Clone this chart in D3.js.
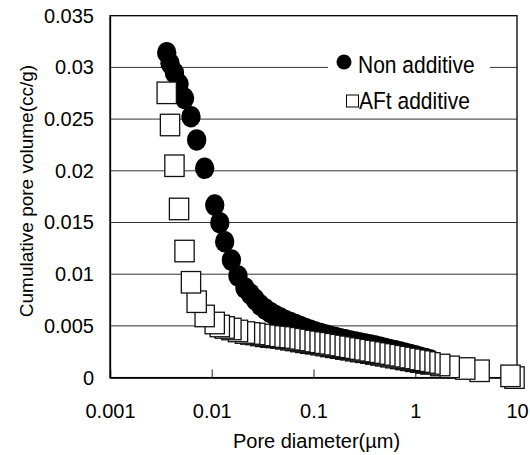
<!DOCTYPE html>
<html>
<head>
<meta charset="utf-8">
<script src="https://cdn.jsdelivr.net/npm/d3@7"></script>
<style>
  body { margin: 0; background: #fff; }
  text { font-family: "Liberation Sans", Arial, sans-serif; fill: #000; }
</style>
</head>
<body>
<div id="chart"></div>
<script>
// pore diameter (um), shared by both series
const diameters = [
  0.00361, 0.00389, 0.0043, 0.00477, 0.0054, 0.00625, 0.00711, 0.00852, 0.0107, 0.012,
  0.0134, 0.0156, 0.0181, 0.0212, 0.0239, 0.0268, 0.03, 0.0336, 0.0376, 0.0421,
  0.0472, 0.0528, 0.0592, 0.0663, 0.0742, 0.0831, 0.093, 0.104, 0.117, 0.131,
  0.146, 0.164, 0.183, 0.205, 0.23, 0.258, 0.288, 0.323, 0.362, 0.405,
  0.454, 0.508, 0.569, 0.637, 0.713, 0.798, 0.894, 1.0, 1.12, 1.26,
  1.41, 1.76, 2.18, 3.1, 4.29, 8.63, 9.45
];
// cumulative pore volume (cc/g)
const nonAdditive = [
  0.03142, 0.0304, 0.02946, 0.02839, 0.02701, 0.02523, 0.02298, 0.02024, 0.01669, 0.01498,
  0.01314, 0.01137, 0.00983, 0.00867, 0.00809, 0.00755, 0.00702, 0.00663, 0.0063, 0.00601,
  0.00576, 0.00552, 0.00533, 0.00514, 0.00494, 0.00475, 0.00457, 0.00441, 0.00426, 0.00412,
  0.00399, 0.00388, 0.00376, 0.00366, 0.00354, 0.00344, 0.00335, 0.00325, 0.00315, 0.00304,
  0.00293, 0.00281, 0.0027, 0.00259, 0.00248, 0.00236, 0.00223, 0.00211, 0.00197, 0.00184,
  0.0017
];
const aftAdditive = [
  0.02754, 0.02443, 0.02049, 0.01631, 0.01224, 0.00922, 0.00734, 0.00596, 0.00528, 0.00499,
  0.00485, 0.0047, 0.00451, 0.00436, 0.00427, 0.00422, 0.00412, 0.00404, 0.00397, 0.00393,
  0.00388, 0.0038, 0.00371, 0.00364, 0.00354, 0.00346, 0.00338, 0.00332, 0.00323, 0.00315,
  0.00306, 0.00298, 0.0029, 0.00281, 0.00274, 0.00265, 0.00257, 0.0025, 0.00242, 0.00233,
  0.00224, 0.00216, 0.00207, 0.00198, 0.0019, 0.0018, 0.00172, 0.00163, 0.00155, 0.00146,
  0.00137, 0.00122, 0.00104, 0.00088, 0.00066, 0.00017, 0.0
];
const xTicks = [0.001, 0.01, 0.1, 1, 10];
const xTickLabels = ["0.001", "0.01", "0.1", "1", "10"];
const yTicks = [0, 0.005, 0.01, 0.015, 0.02, 0.025, 0.03, 0.035];
const yTickLabels = ["0", "0.005", "0.01", "0.015", "0.02", "0.025", "0.03", "0.035"];
const seriesNames = ["Non additive", "AFt additive"];

const W = 530, H = 455;
const plotLeft = 110, plotRight = 517, plotTop = 15.7, plotBottom = 377.6;

const svg = d3.select("#chart").append("svg")
  .attr("width", W).attr("height", H);

const x = d3.scaleLog().domain([0.001, 10]).range([plotLeft, plotRight]);
const y = d3.scaleLinear().domain([0, 0.035]).range([plotBottom, plotTop]);

// gridlines
svg.append("g").attr("class", "grid")
  .selectAll("line")
  .data(yTicks.slice(1, -1))
  .join("line")
  .attr("x1", plotLeft).attr("x2", plotRight)
  .attr("y1", d => y(d)).attr("y2", d => y(d))
  .attr("stroke", "#333").attr("stroke-width", 1);

// frame
svg.append("rect")
  .attr("x", plotLeft).attr("y", plotTop)
  .attr("width", plotRight - plotLeft).attr("height", plotBottom - plotTop)
  .attr("fill", "none").attr("stroke", "#000").attr("stroke-width", 1.3);

// x axis
const xAxis = svg.append("g")
  .attr("transform", `translate(0,${plotBottom})`)
  .call(d3.axisBottom(x).tickValues(xTicks)
    .tickFormat((d, i) => xTickLabels[i])
    .tickSize(-8).tickPadding(26));
xAxis.select(".domain").attr("stroke", "#000").attr("stroke-width", 1.3);
xAxis.selectAll(".tick line").attr("stroke", "#555").attr("stroke-width", 1.3);
xAxis.selectAll("text").attr("font-size", 20).attr("font-family", null);

// y axis
const yAxis = svg.append("g")
  .attr("transform", `translate(${plotLeft},0)`)
  .call(d3.axisLeft(y).tickValues(yTicks)
    .tickFormat((d, i) => yTickLabels[i])
    .tickSize(0).tickPadding(16));
yAxis.select(".domain").attr("stroke", "#000").attr("stroke-width", 1.3);
yAxis.selectAll("text").attr("font-size", 20).attr("font-family", null);

// axis titles
svg.append("text")
  .attr("x", (plotLeft + plotRight) / 2 + 3).attr("y", 448)
  .attr("text-anchor", "middle").attr("font-size", 20)
  .text("Pore diameter(\u00b5m)");

svg.append("text")
  .attr("transform", "translate(33,191) rotate(-90)")
  .attr("text-anchor", "middle").attr("font-size", 19)
  .text("Cumulative pore volume(cc/g)");

// series: drawn from large to small diameter so smaller ones sit on top
const circleData = nonAdditive.map((v, i) => ({ d: diameters[i], v })).reverse();
const squareData = aftAdditive.map((v, i) => ({ d: diameters[i], v })).reverse();

const RX = 9.7, RY = 10.8;
svg.append("g").attr("class", "non-additive")
  .selectAll("ellipse")
  .data(circleData)
  .join("ellipse")
  .attr("cx", d => x(d.d)).attr("cy", d => y(d.v))
  .attr("rx", RX).attr("ry", RY)
  .attr("fill", "#000");

const SW = 19.3, SH = 21.5;
svg.append("g").attr("class", "aft-additive")
  .selectAll("rect")
  .data(squareData)
  .join("rect")
  .attr("x", d => x(d.d) - SW / 2).attr("y", d => y(d.v) - SH / 2)
  .attr("width", SW).attr("height", SH)
  .attr("fill", "#fff").attr("stroke", "#111").attr("stroke-width", 1.3);

// legend
const legend = svg.append("g").attr("class", "legend");
legend.append("rect")
  .attr("x", 328).attr("y", 42).attr("width", 162).attr("height", 74)
  .attr("fill", "#fff");
legend.append("circle")
  .attr("cx", 344).attr("cy", 62).attr("r", 7.5).attr("fill", "#000");
legend.append("rect")
  .attr("x", 346.5).attr("y", 95).attr("width", 12).attr("height", 12)
  .attr("fill", "#fff").attr("stroke", "#000").attr("stroke-width", 1);
legend.selectAll("text.label")
  .data(seriesNames)
  .join("text")
  .attr("class", "label")
  .attr("transform", (d, i) => i === 0 ? "translate(358,73) scale(1,1.18)" : "translate(359,109) scale(1,1.18)")
  .attr("font-size", 21)
  .text(d => d);
</script>
</body>
</html>
